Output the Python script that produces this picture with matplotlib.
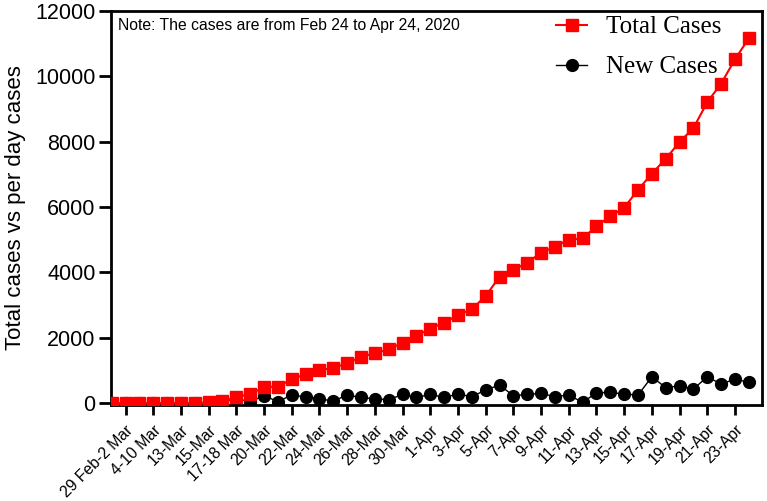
import matplotlib
matplotlib.use("Agg")
import matplotlib.pyplot as plt
from matplotlib.font_manager import FontProperties

# daily categories (47 points), tick labels on every other category
total_cases = [0, 0, 0, 0, 0, 0, 5, 20, 60, 190, 270, 490, 500, 730, 880, 1010,
               1070, 1220, 1410, 1530, 1640, 1850, 2050, 2280, 2460, 2690, 2870,
               3280, 3860, 4070, 4300, 4600, 4780, 5000, 5040, 5410, 5720, 5980,
               6530, 7020, 7480, 7990, 8420, 9210, 9780, 10520, 11170]
new_cases = [0, 0, 0, 0, 0, 0, 5, 15, 40, 130, 40, 230, 40, 250, 180, 130,
             60, 245, 170, 130, 100, 265, 170, 265, 170, 275, 195,
             400, 550, 225, 265, 295, 195, 245, 20, 315, 325, 275,
             245, 805, 470, 530, 430, 805, 580, 735, 630]
tick_labels = ["29 Feb-2 Mar", "4-10 Mar", "13-Mar", "15-Mar", "17-18 Mar",
               "20-Mar", "22-Mar", "24-Mar", "26-Mar", "28-Mar", "30-Mar",
               "1-Apr", "3-Apr", "5-Apr", "7-Apr", "9-Apr", "11-Apr", "13-Apr",
               "15-Apr", "17-Apr", "19-Apr", "21-Apr", "23-Apr"]

plt.rcParams["font.family"] = ["Liberation Sans", "DejaVu Sans"]

fig = plt.figure(figsize=(7.67, 5.01), dpi=100)
ax = fig.add_axes([0.1447, 0.1916, 0.8488, 0.7864])

x = list(range(len(total_cases)))
ax.plot(x, new_cases, "-o", color="black", lw=1.0, ms=8.5, label="New Cases", zorder=3)
ax.plot(x, total_cases, "-s", color="#ff0000", lw=1.5, ms=8.5, label="Total Cases", zorder=4)

ax.set_xlim(-0.05, 46.95)
ax.set_ylim(-60, 12000)
ax.set_yticks(range(0, 12001, 2000))
ax.set_xticks(range(1, len(total_cases), 2))
ax.set_xticklabels(tick_labels, rotation=45, ha="right", rotation_mode="anchor", fontsize=11.3)
ax.tick_params(axis="y", labelsize=15.5, width=2, length=9, pad=2)
ax.tick_params(axis="x", width=2, length=7.5, pad=5)
for s in ax.spines.values():
    s.set_linewidth(2)

ax.set_ylabel("Total cases vs per day cases", fontsize=16, labelpad=7)

ax.text(0.011, 0.962, "Note: The cases are from Feb 24 to Apr 24, 2020",
        transform=ax.transAxes, fontsize=11.3, va="center", ha="left")

h, l = ax.get_legend_handles_labels()
ax.legend(h[::-1], l[::-1], loc="upper right", bbox_to_anchor=(0.972, 1.045),
          frameon=False, prop=FontProperties(family="Liberation Serif", size=18),
          handlelength=1.25, handletextpad=0.75, labelspacing=0.7, numpoints=1)

fig.savefig("out.png", dpi=100, facecolor="w")
